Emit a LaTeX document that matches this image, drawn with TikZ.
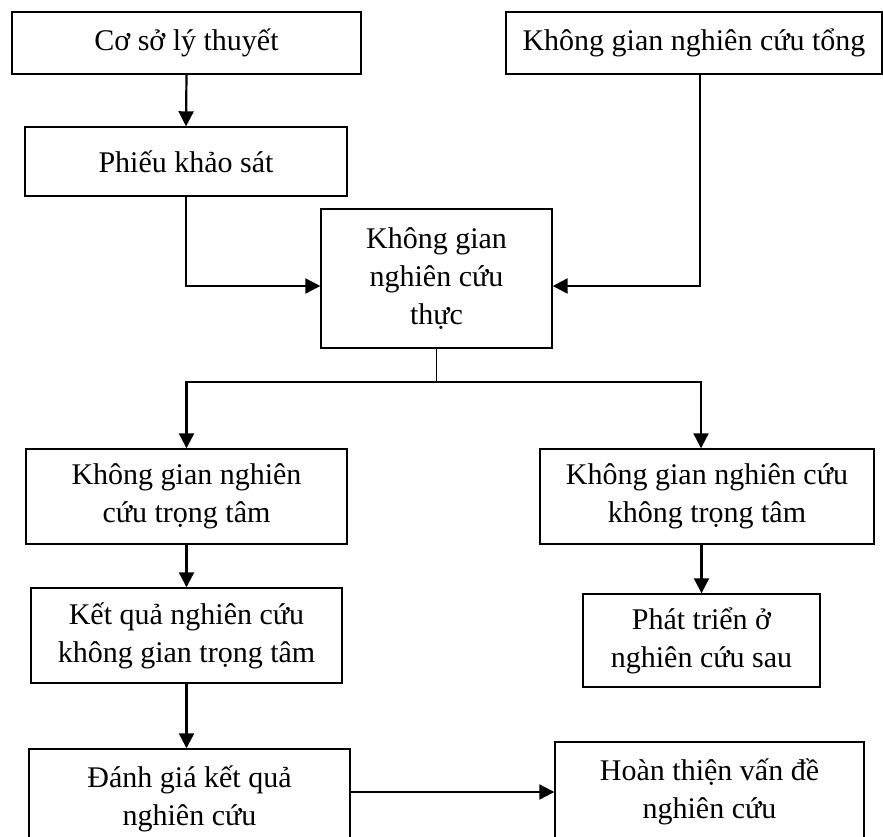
\documentclass[tikz,border=0pt]{standalone}
\usepackage{fontspec}
\setmainfont{Liberation Serif}
\usetikzlibrary{positioning,arrows.meta}

\begin{document}
\begin{tikzpicture}[x=1pt, y=-1pt,
  rectnode/.style={rectangle, draw=black!100, line width=1.4pt, align=center, inner sep=0pt, font=\fontsize{30}{38}\selectfont},
  arrowline/.style={line width=2.2pt, -{Triangle[length=15pt,width=15pt]}}]

\useasboundingbox (0,0) rectangle (883,837);
\clip (0,0) rectangle (883,837);

%Nodes
\node[rectnode, minimum width=349pt, minimum height=62pt] (rect1) at (186.5,43) {Cơ sở lý thuyết};
\node[rectnode, minimum width=376pt, minimum height=62pt] (rect2) at (694,43) {Không gian nghiên cứu tổng};
\node[rectnode, minimum width=322pt, minimum height=69pt] (rect3) at (186,161.5) {Phiếu khảo sát};
\node[rectnode, minimum width=231pt, minimum height=139pt] (rect4) at (436.5,278.5) {Không gian\\nghiên cứu\\thực};
\node[rectnode, minimum width=321pt, minimum height=95pt] (rect5) at (186.5,496.5) {Không gian nghiên\\cứu trọng tâm};
\node[rectnode, minimum width=334pt, minimum height=95pt] (rect6) at (707,496.5) {Không gian nghiên cứu\\không trọng tâm};
\node[rectnode, minimum width=311pt, minimum height=95pt] (rect7) at (186.5,635.5) {Kết quả nghiên cứu\\không gian trọng tâm};
\node[rectnode, minimum width=237pt, minimum height=93pt] (rect8) at (701.5,640.5) {Phát triển ở\\nghiên cứu sau};
\node[rectnode, minimum width=321pt, minimum height=100pt] (rect9) at (189.5,799) {Đánh giá kết quả\\nghiên cứu};
\node[rectnode, minimum width=309pt, minimum height=100pt] (rect10) at (709.5,792) {Hoàn thiện vấn đề\\nghiên cứu};

%line
\draw[arrowline] (rect1.south) -- (rect3.north);
\draw[arrowline] (rect3.south) |- ([yshift=-7.5pt]rect4.west);
\draw[arrowline] ([xshift=6pt]rect2.south) |- ([yshift=-7.5pt]rect4.east);

\draw[line width=1.4pt] (rect4.south) -- ++(0,33) coordinate (split);
\draw[arrowline] (split) -| (rect5.north);
\draw[arrowline] (split) -| ([xshift=-6pt]rect6.north);

\draw[arrowline] (rect5.south) -- (rect7.north);
\draw[arrowline] (rect7.south) -- (rect7.south |- rect9.north);
\draw[arrowline] (rect8.north |- rect6.south) -- (rect8.north);
\draw[arrowline] ([yshift=7pt]rect9.east) -- ([yshift=7pt]rect9.east -| rect10.west);

\end{tikzpicture}
\end{document}
